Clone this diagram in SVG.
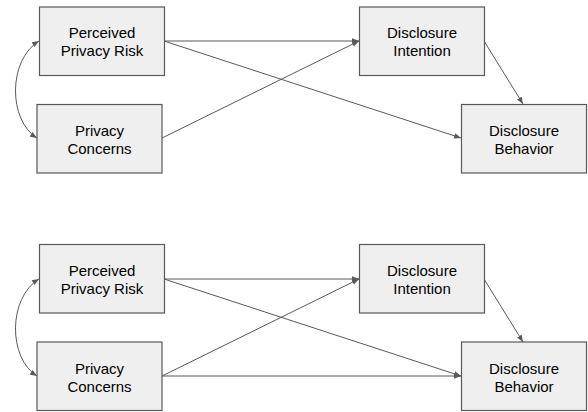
<svg xmlns="http://www.w3.org/2000/svg" width="588" height="412" viewBox="0 0 588 412">
<style>
.box{fill:#efefef;stroke:#595959;stroke-width:1.2}
.lbl{font-family:"Liberation Sans",Arial,sans-serif;font-size:15px;fill:#000;text-anchor:middle}
.c{fill:none;stroke:#595959;stroke-width:1}
</style>
<defs>
<marker id="ah" viewBox="0 0 10 10" refX="10" refY="5" markerWidth="7" markerHeight="7" markerUnits="userSpaceOnUse" orient="auto-start-reverse">
<path d="M0,1 L10,5 L0,9 Z" fill="#595959"/>
</marker>
</defs>
<rect width="588" height="412" fill="#fff"/>
<g id="connectors">
<path class="c" d="M164,41 L359,41" marker-end="url(#ah)"/>
<path class="c" d="M164,41 L461,138" marker-end="url(#ah)"/>
<path class="c" d="M162,138 L359,41" marker-end="url(#ah)"/>
<path class="c" d="M484,41 L523,104" marker-end="url(#ah)"/>
<path class="c" d="M39,41 C8,60 8,120 37,138" marker-start="url(#ah)" marker-end="url(#ah)"/>
<path class="c" d="M164,279 L359,279" marker-end="url(#ah)"/>
<path class="c" d="M164,279 L461,376" marker-end="url(#ah)"/>
<path class="c" d="M162,376 L359,279" marker-end="url(#ah)"/>
<path class="c" d="M162,376 L461,376" marker-end="url(#ah)"/>
<path class="c" d="M484,279 L523,342" marker-end="url(#ah)"/>
<path class="c" d="M39,279 C8,298 8,358 37,376" marker-start="url(#ah)" marker-end="url(#ah)"/>
</g>
<g id="top-ppr"><rect class="box" x="39.5" y="7" width="125" height="68.5"/><text class="lbl" x="102" y="38">Perceived</text><text class="lbl" x="102" y="56">Privacy Risk</text></g>
<g id="top-pc"><rect class="box" x="37" y="104.5" width="125" height="68.5"/><text class="lbl" x="99.5" y="136">Privacy</text><text class="lbl" x="99.5" y="154">Concerns</text></g>
<g id="top-di"><rect class="box" x="359.5" y="7" width="125" height="68.5"/><text class="lbl" x="422" y="38">Disclosure</text><text class="lbl" x="422" y="56">Intention</text></g>
<g id="top-db"><rect class="box" x="461.5" y="104.5" width="125" height="68.5"/><text class="lbl" x="524" y="136">Disclosure</text><text class="lbl" x="524" y="154">Behavior</text></g>
<g id="bot-ppr"><rect class="box" x="39.5" y="244.5" width="125" height="68.5"/><text class="lbl" x="102" y="276">Perceived</text><text class="lbl" x="102" y="294">Privacy Risk</text></g>
<g id="bot-pc"><rect class="box" x="37" y="342" width="125" height="68.5"/><text class="lbl" x="99.5" y="373.5">Privacy</text><text class="lbl" x="99.5" y="391.5">Concerns</text></g>
<g id="bot-di"><rect class="box" x="359.5" y="244.5" width="125" height="68.5"/><text class="lbl" x="422" y="276">Disclosure</text><text class="lbl" x="422" y="294">Intention</text></g>
<g id="bot-db"><rect class="box" x="461.5" y="342" width="125" height="68.5"/><text class="lbl" x="524" y="373.5">Disclosure</text><text class="lbl" x="524" y="391.5">Behavior</text></g>
</svg>
